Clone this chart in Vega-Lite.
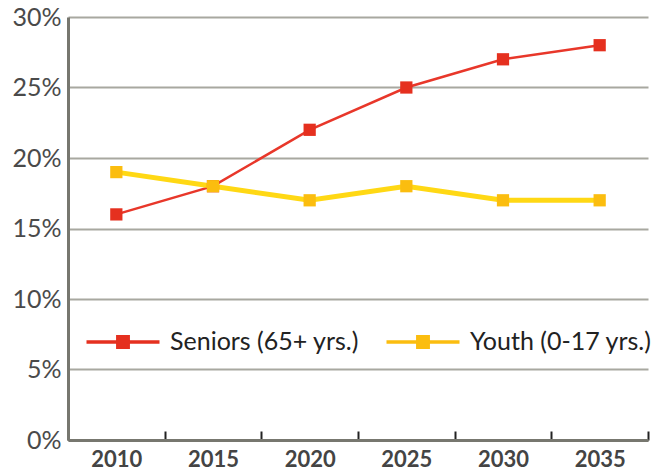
{
  "$schema": "https://vega.github.io/schema/vega-lite/v6.json",
  "width": 580,
  "height": 423,
  "autosize": {"type": "none"},
  "padding": {"left": 68, "top": 17, "right": 6, "bottom": 32},
  "background": "white",
  "config": {"view": {"stroke": null}, "font": "Lato"},
  "data": {"values": [
    {"year": "2010", "series": "Seniors (65+ yrs.)", "value": 0.16},
    {"year": "2015", "series": "Seniors (65+ yrs.)", "value": 0.18},
    {"year": "2020", "series": "Seniors (65+ yrs.)", "value": 0.22},
    {"year": "2025", "series": "Seniors (65+ yrs.)", "value": 0.25},
    {"year": "2030", "series": "Seniors (65+ yrs.)", "value": 0.27},
    {"year": "2035", "series": "Seniors (65+ yrs.)", "value": 0.28},
    {"year": "2010", "series": "Youth (0-17 yrs.)", "value": 0.19},
    {"year": "2015", "series": "Youth (0-17 yrs.)", "value": 0.18},
    {"year": "2020", "series": "Youth (0-17 yrs.)", "value": 0.17},
    {"year": "2025", "series": "Youth (0-17 yrs.)", "value": 0.18},
    {"year": "2030", "series": "Youth (0-17 yrs.)", "value": 0.17},
    {"year": "2035", "series": "Youth (0-17 yrs.)", "value": 0.17}
  ]},
  "encoding": {
    "x": {
      "field": "year", "type": "ordinal",
      "scale": {"type": "band", "paddingInner": 0, "paddingOuter": 0},
      "axis": {
        "title": null, "labelAngle": 0, "tickBand": "extent",
        "labelFontSize": 22, "labelFontWeight": "bold", "labelColor": "#444444",
        "labelPadding": 18, "tickSize": -9, "tickWidth": 2, "tickColor": "#222222",
        "domainColor": "#77776f", "domainWidth": 3, "grid": false,
        "encode": {"ticks": {"update": {"y": {"value": 0}, "y2": {"value": -9}}}}
      }
    },
    "y": {
      "field": "value", "type": "quantitative",
      "scale": {"domain": [0, 0.3], "nice": false},
      "axis": {
        "title": null, "format": ".0%", "values": [0, 0.05, 0.1, 0.15, 0.2, 0.25, 0.3],
        "labelFontSize": 25, "labelColor": "#4a4a4a", "labelPadding": 7,
        "ticks": false, "domainColor": "#77776f", "domainWidth": 3,
        "grid": true, "gridColor": "#a8a8a0", "gridWidth": 2
      }
    },
    "color": {
      "field": "series", "type": "nominal",
      "scale": {"domain": ["Seniors (65+ yrs.)", "Youth (0-17 yrs.)"], "range": ["#e8372a", "#ffd814"]},
      "legend": {
        "orient": "none", "legendX": 18, "legendY": 288, "direction": "horizontal",
        "title": null, "labelFontSize": 25, "labelColor": "#222222", "labelOffset": 10,
        "labelLimit": 400, "columnPadding": 27,
        "symbolType": "M-1,-0.045L1,-0.045L1,0.045L-1,0.045Z M-0.19,-0.19L0.19,-0.19L0.19,0.19L-0.19,0.19Z",
        "symbolSize": 5330, "symbolStrokeWidth": 0,
        "encode": {"symbols": {"update": {"fill": {"scale": "color", "field": "value"}, "fillOpacity": {"value": 1}, "strokeWidth": {"value": 0}}}}
      }
    }
  },
  "layer": [
    {
      "mark": {"type": "line", "strokeWidth": 2.5},
      "transform": [{"filter": "datum.series == 'Seniors (65+ yrs.)'"}]
    },
    {
      "mark": {"type": "line", "strokeWidth": 5},
      "transform": [{"filter": "datum.series == 'Youth (0-17 yrs.)'"}]
    },
    {
      "mark": {"type": "point", "shape": "square", "filled": true, "size": 150, "opacity": 1},
      "encoding": {
        "fill": {"field": "series", "type": "nominal",
          "scale": {"domain": ["Seniors (65+ yrs.)", "Youth (0-17 yrs.)"], "range": ["#e5301f", "#fbbd0f"]},
          "legend": null}
      }
    }
  ]
}
